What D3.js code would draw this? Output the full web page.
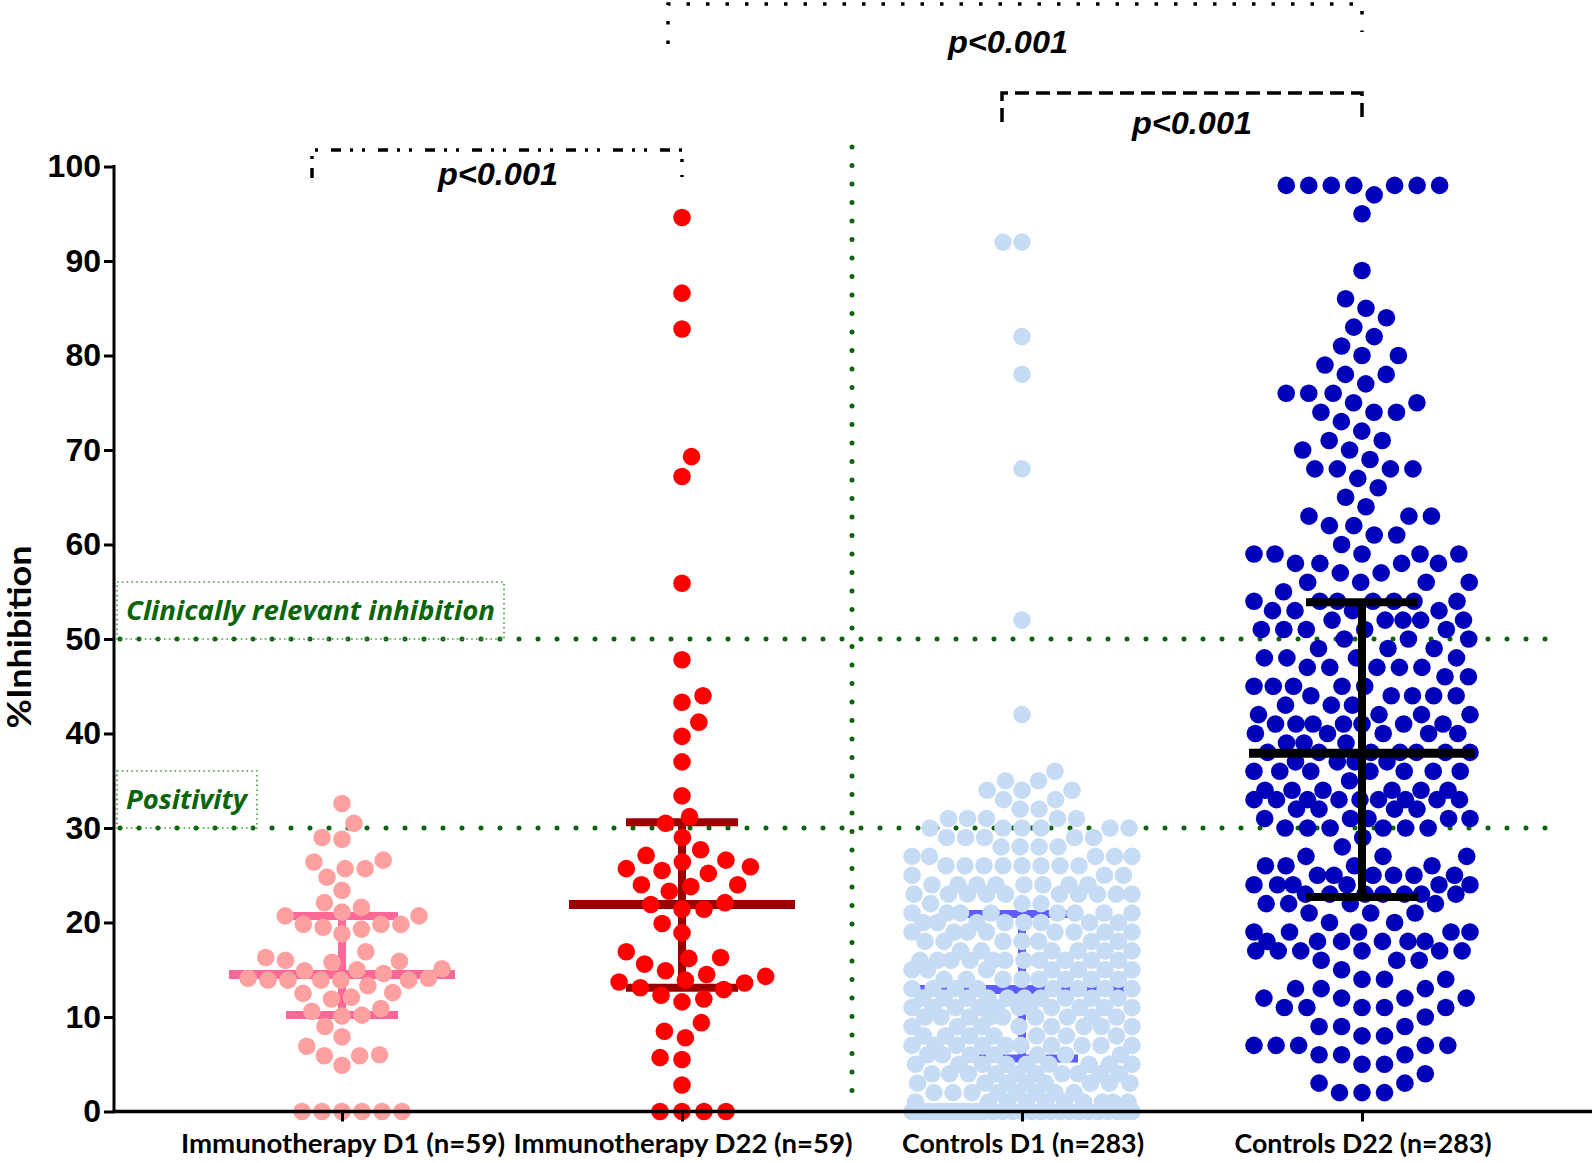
<!DOCTYPE html>
<html><head><meta charset="utf-8">
<script src="https://cdn.jsdelivr.net/npm/d3@7/dist/d3.min.js"></script>
<style>body{margin:0;background:#fff}svg{display:block}</style>
</head><body>
<svg id="chart" width="1594" height="1163"></svg>
<script>
// ---------- DATA ----------
const categories = ["Immunotherapy D1 (n=59)", "Immunotherapy D22 (n=59)", "Controls D1 (n=283)", "Controls D22 (n=283)"];
const yTicks = [0, 10, 20, 30, 40, 50, 60, 70, 80, 90, 100];

const immunoD1 = [32.6,30.5,28.8,29.0,25.7,26.4,26.6,25.7,24.8,23.4,21.6,20.7,21.1,22.1,20.7,19.8,19.5,19.8,18.8,19.8,
  19.3,16.9,16.3,15.8,15.1,14.9,13.3,14.1,13.9,13.9,13.9,13.9,13.9,14.1,14.6,15.0,15.9,16.0,12.5,11.9,
  12.1,12.6,10.6,10.1,10.9,10.2,9.0,7.9,6.9,6.0,5.9,5.9,4.9,0,0,0,0,0,0];

const immunoD22 = [94.6,86.6,82.8,69.3,67.2,55.9,47.8,44.0,43.3,41.2,39.7,37.0,33.4,31.2,30.5,29.0,
  27.1,26.4,25.7,25.2,25.5,25.9,26.6,27.7,24.0,23.3,23.8,24.0,22.1,21.9,21.4,21.4,19.9,18.9,
  16.3,15.6,16.2,16.9,13.9,13.6,14.5,14.3,14.9,12.9,13.1,13.7,12.3,11.6,11.9,9.4,8.5,7.8,5.5,5.7,2.8,0,0,0,0];

const controlsD1 = [92,92,82,78,68,52,42,36,
  35,35, 34,34,34, 33,33, 32,32, 31,31,31,31,31, 30,30,30,30,30,30,
  29,29,29,29,29, 28,28,28,28, 27,27,27,27,27, 26,26,26,26,26,26,26,26,
  25,25,25, 24,24,24,24,24,24,24,24, 23,23,23,23,23,23,23,23,23,23, 22,22,22,
  21,21,21,21,21,21,21,21, 20,20,20,20,20,20,20,20, 19,19,19,19,19,19,19,19,
  18,18,18,18,18,18,18, 17,17,17,17,17,17, 16,16,16,16,16,16,16,16,16,16,16,
  15,15,15,15,15,15,15, 14,14,14,14,14,14,14,14, 13,13,13,13,13,13,13,13,
  12,12,12,12,12,12,12,12,12,12, 11,11,11,11,11,11,11,11,11,11,11,
  10,10,10,10,10,10,10,10,10, 9,9,9,9,9,9,9,9, 8,8,8,8,8,8,8,
  7,7,7,7,7,7,7,7,7,7, 6,6,6,6,6,6,6,
  5,5,5,5,5,5,5,5,5, 4,4,4,4,4,4,4,4,4,4, 3,3,3,3,3,3,3,3, 2,2,2,2,2,2,2,2,
  1,1,1,1,1,1,1,1,1,1,
  0,0,0,0,0,0,0,0,0,0,0,0,0,0,0,0,0,0,0,0,0,0,0,0,0,0,0,0,0,0,0];

const controlsD22 = [98,98,98,98,98,98,98, 97, 95, 89, 86, 85, 84, 83, 82, 81, 80,80, 79, 78,78, 77,
  76,76,76, 75,75, 74,74,74, 73, 72, 71,71, 70,70, 69, 68,68,68,68, 67, 66, 65, 64, 63,63,63,
  62,62, 61,61, 60, 59,59,59,59,59, 58,58,58,58, 57,57, 56,56,56,56, 55,
  54,54,54,54,54,54,54, 53,53,53,53, 52,52,52,52,52, 51,51,51,51,51, 50,50,50, 49,49,49,
  48,48,48,48, 47,47,47,47,47, 46,46, 45,45,45,45,45, 44,44,44,44,44, 43,43,43,
  42,42,42,42, 41,41,41,41,41,41,41, 40,40,40,40,40, 39,39,39,
  38,38,38,38,38,38,38, 37,37,37,37, 36,36,36,36,36,36,36, 35, 34,34,34,34,34,34,
  33,33,33,33,33,33,33,33,33, 32,32,32,32, 31,31,31,31,31, 30,30,30,30,30,30, 29, 28,
  27,27,27, 26,26,26,26, 25,25,25,25,25,25, 24,24,24,24,24,24, 23,23,23,23,23,23,23,
  22,22,22,22, 21,21,21, 20,20, 19,19,19,19,19, 18,18,18,18,18,18, 17,17,17,17,17,17,
  16,16,16, 15, 14,14,14, 13,13,13, 12,12,12,12, 11,11,11,11,11, 10, 9,9,9, 8,8,
  7,7,7,7,7, 6,6,6, 5,5, 4, 3,3, 2,2,2];

const medians = [14.5, 21.9, 12.9, 37.9];
const lowerQ  = [10.2, 13.1, 5.6, 22.7];
const upperQ  = [20.7, 30.6, 20.9, 53.9];

const pointColors = ["#ffa0a0", "#ff0000", "#c6dcf5", "#0000bb"];
const barColors   = ["#fb6797", "#9b0000", "#5c5cff", "#000000"];

const thresholdValues = [50, 30];
const thresholdLabels = ["Clinically relevant inhibition", "Positivity"];
const pLabels = ["p<0.001", "p<0.001", "p<0.001"];

// ---------- LAYOUT ----------
const svg = d3.select("#chart");
const y = d3.scaleLinear().domain([0, 100]).range([1111.5, 166.5]);
const x = d3.scalePoint().domain(categories).range([342, 1362]);
const axisX0 = 114, axisX1 = 1592;
const R = 8.8;
const green = "#0a650a";

const groups = [immunoD1, immunoD22, controlsD1, controlsD22];
const halfWidths = [100, 102, 110, 108];
const spacing = [20, 22, 19, 22.5];

function swarm(values, d, maxHalf) {
  const pts = values.map(v => ({ v, py: y(v) })).sort((a, b) => a.v - b.v);
  const placed = [];
  let flip = 1;
  for (const p of pts) {
    const near = placed.filter(q => Math.abs(q.py - p.py) < d);
    let cands = [0];
    for (const q of near) {
      const dx = Math.sqrt(d * d - (q.py - p.py) ** 2);
      cands.push(q.dx - dx, q.dx + dx);
    }
    cands = cands.filter(c => Math.abs(c) <= maxHalf + 1e-6);
    const ok = cands.filter(c => near.every(q => (q.dx - c) ** 2 + (q.py - p.py) ** 2 >= d * d - 1e-3));
    let best;
    if (ok.length) {
      ok.sort((a, b) => {
        const da = Math.abs(a) - Math.abs(b);
        if (Math.abs(da) > 0.5) return da;
        return flip * (a - b);
      });
      best = ok[0];
    } else {
      let bestScore = -1; best = 0;
      for (let c = -maxHalf; c <= maxHalf + 1e-6; c += 0.5) {
        let m = Infinity;
        for (const q of near) m = Math.min(m, Math.hypot(q.dx - c, q.py - p.py));
        if (m > bestScore + 1e-6) { bestScore = m; best = c; }
      }
    }
    flip = -flip;
    p.dx = best;
    placed.push(p);
  }
  return pts;
}

// threshold lines
const gThr = svg.append("g");
thresholdValues.forEach(v => {
  gThr.append("line").attr("x1", axisX0 + 6).attr("x2", 1552).attr("y1", y(v)).attr("y2", y(v))
    .attr("stroke", green).attr("stroke-width", 5).attr("stroke-linecap", "round").attr("stroke-dasharray", "0 19");
});
const xDiv = (x(categories[1]) + x(categories[2])) / 2;
gThr.append("line").attr("x1", xDiv).attr("x2", xDiv).attr("y1", 147).attr("y2", y(0) - 6)
  .attr("stroke", green).attr("stroke-width", 5).attr("stroke-linecap", "round").attr("stroke-dasharray", "0 18.5");

// threshold label boxes
const boxW = [387, 140];
const labelLen = [369, 121];
thresholdValues.forEach((v, i) => {
  gThr.append("rect").attr("x", 117).attr("y", y(v) - 57).attr("width", boxW[i]).attr("height", 57)
    .attr("fill", "none").attr("stroke", "#3f9a3f").attr("stroke-width", 1.6).attr("stroke-dasharray", "1.6 3.2");
  gThr.append("text").attr("x", 126).attr("y", y(v) - 19.5)
    .attr("font-family", "'Open Sans', sans-serif").attr("font-weight", 700).attr("font-style", "italic")
    .attr("font-size", 27).attr("fill", green)
    .attr("textLength", labelLen[i]).attr("lengthAdjust", "spacingAndGlyphs").text(thresholdLabels[i]);
});

// groups
groups.forEach((vals, gi) => {
  const cx = x(categories[gi]);
  const g = svg.append("g");
  const drawBars = sel => {
    sel.append("line").attr("x1", cx).attr("x2", cx).attr("y1", y(upperQ[gi])).attr("y2", y(lowerQ[gi]))
      .attr("stroke", barColors[gi]).attr("stroke-width", 8);
    [upperQ[gi], lowerQ[gi]].forEach(v => sel.append("line").attr("x1", cx - 56).attr("x2", cx + 56)
      .attr("y1", y(v)).attr("y2", y(v)).attr("stroke", barColors[gi]).attr("stroke-width", 8));
    sel.append("line").attr("x1", cx - 113).attr("x2", cx + 113).attr("y1", y(medians[gi])).attr("y2", y(medians[gi]))
      .attr("stroke", barColors[gi]).attr("stroke-width", 9);
  };
  const pts = swarm(vals, spacing[gi], halfWidths[gi]);
  const barsOnTop = gi === 3;
  if (!barsOnTop) drawBars(g.append("g"));
  g.append("g").selectAll("circle").data(pts).join("circle")
    .attr("cx", d => cx + d.dx).attr("cy", d => d.py).attr("r", R).attr("fill", pointColors[gi]);
  if (barsOnTop) drawBars(g.append("g"));
});

// axes
const yAxis = d3.axisLeft(y).tickValues(yTicks).tickSize(10).tickPadding(3);
const gy = svg.append("g").attr("transform", `translate(${axisX0},0)`).call(yAxis);
gy.select(".domain").remove();
gy.selectAll(".tick line").attr("stroke", "#000").attr("stroke-width", 3);
gy.selectAll(".tick text").attr("font-family", "'Liberation Sans', Arial, sans-serif").attr("font-weight", 700)
  .attr("font-size", 32).attr("fill", "#000");
svg.append("line").attr("x1", axisX0).attr("x2", axisX0).attr("y1", y(100) - 1.5).attr("y2", y(0) + 1.5)
  .attr("stroke", "#000").attr("stroke-width", 3);

const xAxis = d3.axisBottom(x).tickSize(10).tickFormat("");
const gx = svg.append("g").attr("transform", `translate(0,${y(0)})`).call(xAxis);
gx.select(".domain").remove();
gx.selectAll(".tick line").attr("stroke", "#000").attr("stroke-width", 3);
svg.append("line").attr("x1", axisX0 - 1.5).attr("x2", axisX1).attr("y1", y(0)).attr("y2", y(0))
  .attr("stroke", "#000").attr("stroke-width", 3.5);

const labelWidths = [324, 339, 242, 257];
categories.forEach((c, i) => {
  svg.append("text").attr("x", x(c) + 1).attr("y", 1153).attr("text-anchor", "middle")
    .attr("font-family", "Lato, sans-serif").attr("font-weight", 700).attr("font-size", 26)
    .attr("textLength", labelWidths[i]).attr("lengthAdjust", "spacingAndGlyphs").attr("fill", "#000").text(c);
});

svg.append("text").attr("transform", "translate(31,637) rotate(-90)").attr("text-anchor", "middle")
  .attr("font-family", "Lato, sans-serif").attr("font-weight", 700).attr("font-size", 32)
  .attr("textLength", 183).attr("lengthAdjust", "spacingAndGlyphs").attr("fill", "#000").text("%Inhibition");

// significance brackets
const brackets = [
  { x1: x(categories[0]) - 30, x2: x(categories[1]), top: 150, l: 178, r: 177, dash: "10 9 3 9 3 13", tx: 498, ty: 185 },
  { x1: x(categories[2]) - 20, x2: x(categories[3]), top: 93, l: 122, r: 122, dash: "14 7", tx: 1192, ty: 134 },
  { x1: x(categories[1]) - 14, x2: x(categories[3]), top: 4, l: 44, r: 32, dash: "3.5 16", tx: 1008, ty: 53 }
];
brackets.forEach((b, i) => {
  const p = d3.path();
  p.moveTo(b.x1, b.l); p.lineTo(b.x1, b.top); p.lineTo(b.x2, b.top); p.lineTo(b.x2, b.r);
  svg.append("path").attr("d", p.toString()).attr("fill", "none").attr("stroke", "#000")
    .attr("stroke-width", 3.5).attr("stroke-dasharray", b.dash);
  svg.append("text").attr("x", b.tx).attr("y", b.ty).attr("text-anchor", "middle")
    .attr("font-family", "'Liberation Sans', Arial, sans-serif").attr("font-weight", 700).attr("font-style", "italic")
    .attr("font-size", 31).attr("textLength", 120).attr("lengthAdjust", "spacingAndGlyphs")
    .attr("fill", "#000").text(pLabels[i]);
});
</script>
</body></html>
